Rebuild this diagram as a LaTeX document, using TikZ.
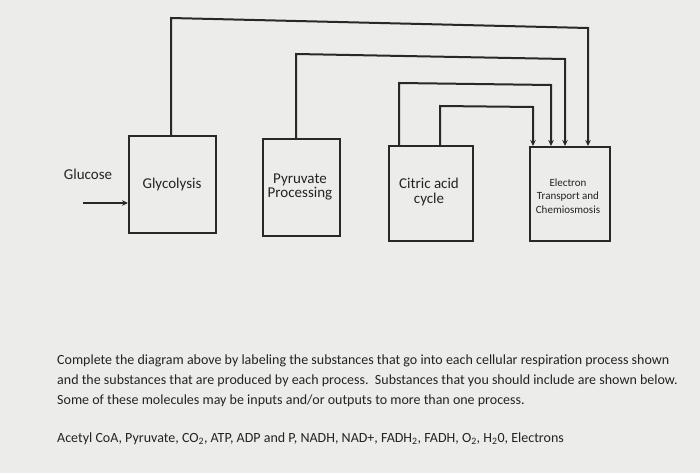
\documentclass[tikz,border=0pt]{standalone}
\usepackage{fontspec}
\setmainfont{Carlito}
\usetikzlibrary{arrows.meta}
\definecolor{bg}{RGB}{236,236,234}
\definecolor{ink}{RGB}{40,40,40}
\definecolor{txt}{RGB}{35,35,35}
\begin{document}
\begin{tikzpicture}[x=1pt,y=-1pt,
  procbox/.style={draw=ink,line width=1.8pt,anchor=north west,inner sep=0pt},
  conn/.style={draw=ink,line width=2pt},
  tip/.style={-{Stealth[length=6pt,width=5.5pt]}},
  lbl/.style={text=txt,font=\fontsize{15}{16}\selectfont,align=center},
  para/.style={text=txt,font=\fontsize{14}{20}\selectfont,anchor=west,inner sep=0pt}]
\fill[bg] (0,0) rectangle (700,473);
\useasboundingbox (0,0) rectangle (700,473);
% boxes
\node[procbox,minimum width=87pt,minimum height=97pt] (gly) at (128,135) {};
\node[procbox,minimum width=77pt,minimum height=97pt] (pyr) at (262,138) {};
\node[procbox,minimum width=84pt,minimum height=95pt] (cit) at (388,145) {};
\node[procbox,minimum width=80pt,minimum height=94pt] (etc) at (529,146) {};
% labels
\node[lbl] (glyt) at (172,185) {Glycolysis};
\node[lbl] (pyrt) at (300,187) {Pyruvate\\[-2pt]Processing};
\node[lbl] (citt) at (429,192) {Citric acid\\[-1pt]cycle};
\node[lbl,font=\fontsize{11}{13.5}\selectfont] (etct) at (568,196) {Electron\\Transport and\\Chemiosmosis};
\node[lbl] (glu) at (88,174) {Glucose};
% glucose arrow
\coordinate (gs) at (83,203);
\draw[conn,tip] (gs) -- (gs -| gly.west);
% connectors
\coordinate (a1) at (171,18);
\coordinate (a2) at (588,28);
\draw[conn,tip] (gly.north -| a1) -- (a1) -- (a2) -- (a2 |- etc.north);
\coordinate (b1) at (296,54);
\coordinate (b2) at (565,59);
\draw[conn,tip] (pyr.north -| b1) -- (b1) -- (b2) -- (b2 |- etc.north);
\coordinate (c1) at (399,83);
\coordinate (c2) at (551,85);
\draw[conn,tip] (cit.north -| c1) -- (c1) -- (c2) -- (c2 |- etc.north);
\coordinate (d1) at (440,106);
\coordinate (d2) at (533,107);
\draw[conn,tip] (cit.north -| d1) -- (d1) -- (d2) -- (d2 |- etc.north);
% paragraph
\node[para] (p1) at (57,361) {Complete the diagram above by labeling the substances that go into each cellular respiration process shown};
\node[para] (p2) at (57,381) {and the substances that are produced by each process.\ \ Substances that you should include are shown below.};
\node[para] (p3) at (57,401) {Some of these molecules may be inputs and/or outputs to more than one process.};
\node[para] (p4) at (57,439) {Acetyl CoA, Pyruvate, CO\textsubscript{2}, ATP, ADP and P, NADH, NAD+, FADH\textsubscript{2}, FADH, O\textsubscript{2}, H\textsubscript{2}0, Electrons};
\end{tikzpicture}
\end{document}
